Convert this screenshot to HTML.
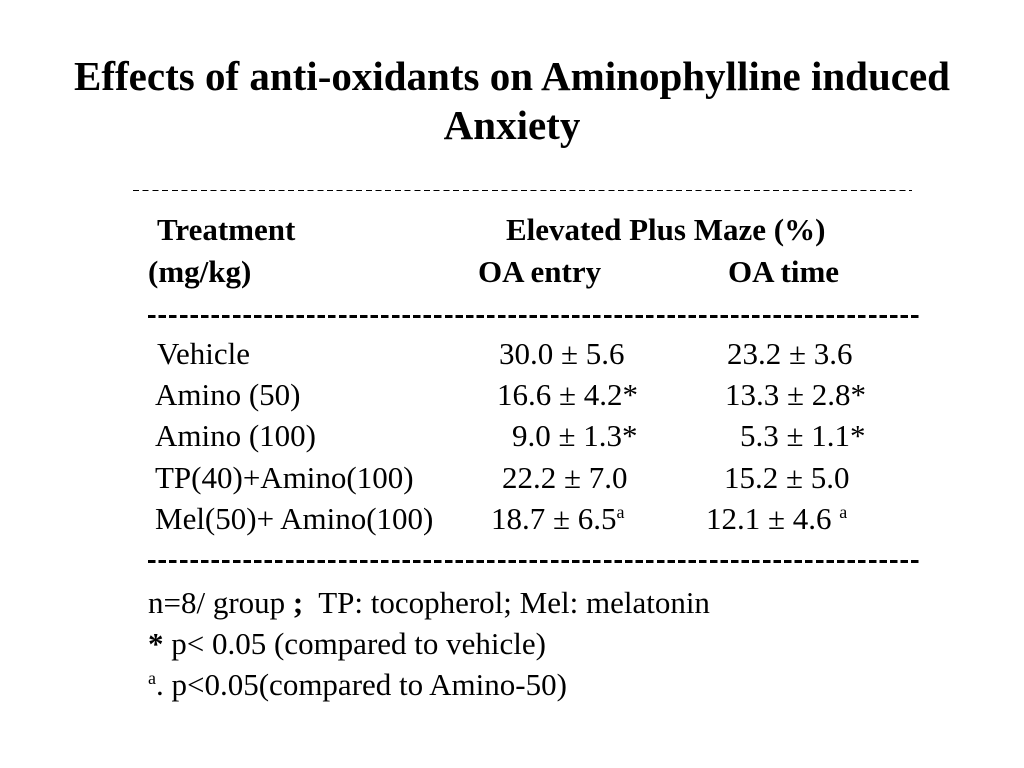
<!DOCTYPE html>
<html><head><meta charset="utf-8">
<style>
body{margin:0;width:1024px;height:768px;background:#fff;position:relative;overflow:hidden;font-family:"Liberation Serif","Times New Roman",serif;color:#000}
.t{position:absolute;font-size:31px;line-height:31px;white-space:nowrap}
.b{font-weight:bold}
.title{position:absolute;left:0;width:1024px;text-align:center;font-weight:bold;font-size:41px;line-height:41px;white-space:nowrap}
.dash{position:absolute}
sup{font-size:18px;vertical-align:11px;line-height:0}
</style></head><body>
<div class="title" style="top:56px">Effects of anti-oxidants on Aminophylline induced</div>
<div class="title" style="top:105px">Anxiety</div>

<div class="dash" style="left:133px;top:190px;width:779px;height:1px;background:repeating-linear-gradient(90deg,#000 0 6px,transparent 6px 9.7px)"></div>

<div class="t b" style="left:157px;top:214px">Treatment</div>
<div class="t b" style="left:506px;top:214px">Elevated Plus Maze (%)</div>
<div class="t b" style="left:148px;top:256px">(mg/kg)</div>
<div class="t b" style="left:478px;top:256px">OA entry</div>
<div class="t b" style="left:728px;top:256px">OA time</div>

<div class="dash" style="left:148px;top:315px;width:772px;height:3px;background:repeating-linear-gradient(90deg,#000 0 7.5px,transparent 7.5px 10.6px)"></div>

<div class="t" style="left:157px;top:338px">Vehicle</div>
<div class="t" style="left:499px;top:338px">30.0 ± 5.6</div>
<div class="t" style="left:727px;top:338px">23.2 ± 3.6</div>

<div class="t" style="left:155px;top:379px">Amino (50)</div>
<div class="t" style="left:497px;top:379px">16.6 ± 4.2*</div>
<div class="t" style="left:725px;top:379px">13.3 ± 2.8*</div>

<div class="t" style="left:155px;top:420px">Amino (100)</div>
<div class="t" style="left:512px;top:420px">9.0 ± 1.3*</div>
<div class="t" style="left:740px;top:420px">5.3 ± 1.1*</div>

<div class="t" style="left:155px;top:462px">TP(40)+Amino(100)</div>
<div class="t" style="left:502px;top:462px">22.2 ± 7.0</div>
<div class="t" style="left:724px;top:462px">15.2 ± 5.0</div>

<div class="t" style="left:155px;top:503px">Mel(50)+ Amino(100)</div>
<div class="t" style="left:491px;top:503px">18.7 ± 6.5<sup>a</sup></div>
<div class="t" style="left:706px;top:503px">12.1 ± 4.6 <sup>a</sup></div>

<div class="dash" style="left:148px;top:560px;width:772px;height:3px;background:repeating-linear-gradient(90deg,#000 0 7.5px,transparent 7.5px 10.6px)"></div>

<div class="t" style="left:148px;top:587px">n=8/ group <b>;</b>&nbsp; TP: tocopherol; Mel: melatonin</div>
<div class="t" style="left:148px;top:628px"><b>*</b> p&lt; 0.05 (compared to vehicle)</div>
<div class="t" style="left:148px;top:669px"><sup>a</sup>. p&lt;0.05(compared to Amino-50)</div>
</body></html>
